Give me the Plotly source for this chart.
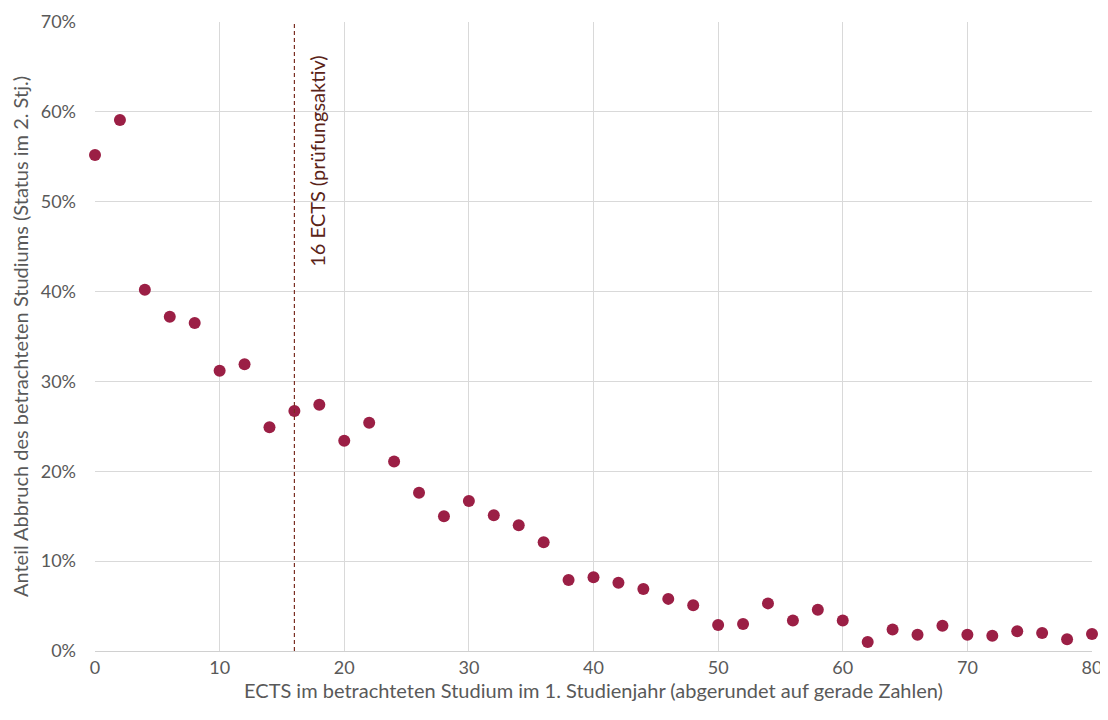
import plotly.graph_objects as go

ects = [0, 2, 4, 6, 8, 10, 12, 14, 16, 18, 20, 22, 24, 26, 28, 30, 32, 34, 36, 38, 40,
        42, 44, 46, 48, 50, 52, 54, 56, 58, 60, 62, 64, 66, 68, 70, 72, 74, 76, 78, 80]
abbruch = [55.2, 59.1, 40.2, 37.2, 36.5, 31.2, 31.9, 24.9, 26.7, 27.4, 23.4, 25.4, 21.1,
           17.6, 15.0, 16.7, 15.1, 14.0, 12.1, 7.9, 8.2, 7.6, 6.9, 5.8, 5.1, 2.9, 3.0,
           5.3, 3.4, 4.6, 3.4, 1.0, 2.4, 1.8, 2.8, 1.8, 1.7, 2.2, 2.0, 1.3, 1.9]
abbruch_frac = [v / 100 for v in abbruch]
ref_line_x = 16
ref_label = "16 ECTS (prüfungsaktiv)"
x_title = "ECTS im betrachteten Studium im 1. Studienjahr (abgerundet auf gerade Zahlen)"
y_title = "Anteil Abbruch des betrachteten Studiums (Status im 2. Stj.)"

FONT = "Lato, Open Sans, sans-serif"
GREY = "#595959"

fig = go.Figure()
fig.add_trace(go.Scatter(
    x=ects, y=abbruch_frac, mode="markers",
    marker=dict(color="#9b1f45", size=12, line=dict(width=0)),
    showlegend=False, hoverinfo="x+y", cliponaxis=False,
))

fig.add_shape(type="line", x0=ref_line_x, x1=ref_line_x, y0=0, y1=1, yref="paper",
              line=dict(color="#7a2e22", width=1.2, dash="4px,3px"))
fig.add_annotation(x=17.8, y=0.665, xref="x", yref="y", text=ref_label,
                   textangle=-90, showarrow=False, yanchor="top", xanchor="center",
                   font=dict(family=FONT, size=20, color="#5a2318"))

fig.update_layout(
    width=1100, height=696,
    margin=dict(l=87, r=16, t=14, b=53, autoexpand=False),
    paper_bgcolor="white", plot_bgcolor="white",
    font=dict(family=FONT, size=17, color=GREY),
    xaxis=dict(
        range=[0, 80], tickvals=list(range(0, 81, 10)),
        showgrid=True, gridcolor="#d9d9d9", gridwidth=1,
        zeroline=False, showline=True, linecolor="#d0d0d0",
        ticks="", tickfont=dict(size=18, color=GREY), automargin=True,
        ticklabeloverflow="allow",
        title=dict(text=x_title, font=dict(size=20, color=GREY), standoff=2),
    ),
    yaxis=dict(
        range=[0, 0.70], tickvals=[i / 10 for i in range(0, 8)], tickformat=".0%",
        showgrid=True, gridcolor="#d9d9d9", gridwidth=1,
        zeroline=False, showline=False, ticks="",
        tickfont=dict(size=18, color=GREY), ticklabelstandoff=18, automargin=False,
        ticklabeloverflow="allow",
        title=dict(text=y_title, font=dict(size=20, color=GREY), standoff=12),
    ),
)

fig.write_html("out.html")
